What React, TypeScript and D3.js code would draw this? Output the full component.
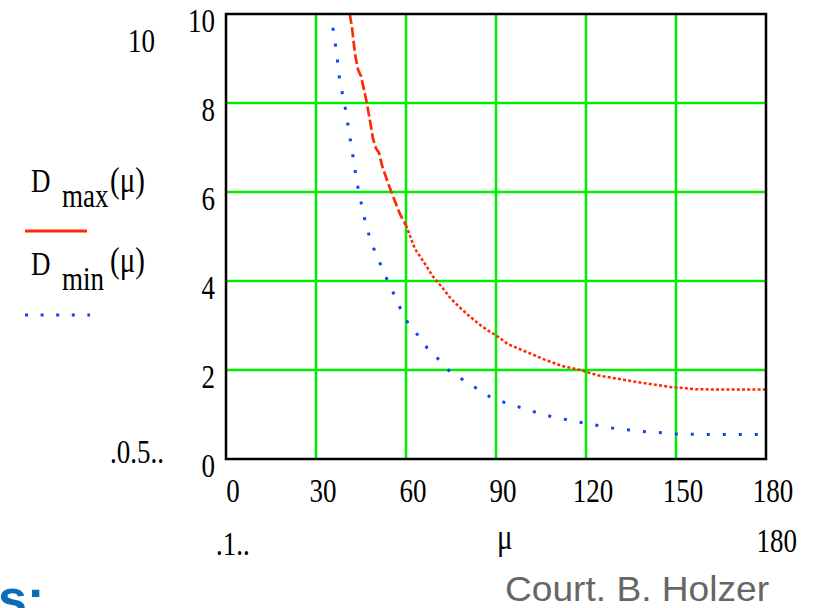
import React from "react";
import * as d3 from "d3";

// Dispersion maximum / minimum in a FODO cell versus phase advance per cell (degrees)
const muMax = [40, 41, 42, 43, 44, 45, 46, 47, 48, 49, 50, 51, 52, 54, 56, 58, 60, 63, 66, 69, 72, 75, 78, 81, 84, 87, 90, 94, 100, 106, 112, 118, 124, 130, 136, 142, 148, 156, 164, 172, 180];
const dMax = [10.6, 10.1, 9.7, 9.1, 8.75, 8.6, 8.3, 7.98, 7.6, 7.2, 6.98, 6.88, 6.6, 6.2, 5.85, 5.5, 5.25, 4.72, 4.42, 4.1, 3.86, 3.6, 3.4, 3.22, 3.05, 2.9, 2.78, 2.58, 2.41, 2.24, 2.09, 2.0, 1.88, 1.81, 1.74, 1.68, 1.62, 1.57, 1.56, 1.56, 1.56];

const muMin = [34, 35, 36, 37, 38, 39, 40, 41, 42, 43, 44, 46, 48, 50, 52, 54, 56, 58, 61, 64, 67, 71, 75, 79, 83, 87, 92, 97, 101, 106, 111, 115, 120, 125, 130, 135, 140, 145, 150, 160, 170, 178];
const dMin = [10.4, 9.9, 9.55, 9.05, 8.45, 8.15, 7.8, 7.35, 6.95, 6.5, 6.1, 5.45, 4.95, 4.6, 4.3, 3.98, 3.7, 3.4, 3.01, 2.78, 2.5, 2.23, 1.94, 1.78, 1.61, 1.43, 1.29, 1.18, 1.1, 0.99, 0.92, 0.86, 0.8, 0.74, 0.68, 0.65, 0.61, 0.59, 0.56, 0.55, 0.55, 0.55];

const xTicks = [0, 30, 60, 90, 120, 150, 180];
const yTicks = [0, 2, 4, 6, 8, 10];

const W = 814;
const H = 608;
const left = 226;
const right = 766;
const top = 14;
const bottom = 459;

const SERIF = "'Liberation Serif', 'Times New Roman', serif";
const STRETCH = 1.25;

const x = d3.scaleLinear().domain([0, 180]).range([left, right]);
const y = d3.scaleLinear().domain([0, 10]).range([bottom, top]);

type Pt = [number, number];
const zip = (a: number[], b: number[]): Pt[] => a.map((v, i) => [v, b[i]]);

const line = d3
  .line<Pt>()
  .x((d) => x(d[0]))
  .y((d) => y(d[1]));

const maxPts = zip(muMax, dMax);
const minPts = zip(muMin, dMin);
const maxSteep = maxPts.filter((d) => d[0] <= 60);
const maxFlat = maxPts.filter((d) => d[0] >= 60);

function T({
  x: tx,
  y: ty,
  size = 27,
  anchor = "start",
  children,
}: {
  x: number;
  y: number;
  size?: number;
  anchor?: "start" | "middle" | "end";
  children: React.ReactNode;
}) {
  return (
    <text
      transform={`translate(${tx},${ty}) scale(1,${STRETCH})`}
      fontFamily={SERIF}
      fontSize={size}
      textAnchor={anchor}
      fill="#000"
    >
      {children}
    </text>
  );
}

export default function App() {
  const green = "#00ee00";
  const red = "#ff2a00";
  const blue = "#1240ff";
  return (
    <svg
      width={W}
      height={H}
      style={{ position: "absolute", left: 0, top: 0, background: "#fff" }}
    >
      <defs>
        <clipPath id="plot">
          <rect x={left} y={top} width={right - left} height={bottom - top} />
        </clipPath>
      </defs>

      {/* grid */}
      {xTicks
        .filter((t) => t > 0 && t < 180)
        .map((t) => (
          <line key={"gx" + t} x1={x(t)} x2={x(t)} y1={top} y2={bottom} stroke={green} strokeWidth={2.5} />
        ))}
      {yTicks
        .filter((t) => t > 0 && t < 10)
        .map((t) => (
          <line key={"gy" + t} x1={left} x2={right} y1={y(t)} y2={y(t)} stroke={green} strokeWidth={2.5} />
        ))}

      {/* curves */}
      <g clipPath="url(#plot)" fill="none">
        <path d={line(maxSteep) || ""} stroke={red} strokeWidth={2.7} strokeDasharray="10,3.5" />
        <path d={line(maxFlat) || ""} stroke={red} strokeWidth={2.5} strokeDasharray="3,2.2" />
        <path d={line(minPts) || ""} stroke={blue} strokeWidth={3} strokeDasharray="3,13" />
      </g>

      {/* frame */}
      <rect
        x={left}
        y={top}
        width={right - left}
        height={bottom - top}
        fill="none"
        stroke="#000"
        strokeWidth={2.5}
      />

      {/* tick labels */}
      {yTicks.map((t) => (
        <T key={"ty" + t} x={215} y={y(t) + 18} anchor="end">
          {t}
        </T>
      ))}
      {xTicks.map((t) => (
        <T key={"tx" + t} x={x(t) + 7} y={502} anchor="middle">
          {t}
        </T>
      ))}

      {/* axis limit placeholders and axis name */}
      <T x={128} y={52}>10</T>
      <T x={110} y={463}>.0.5..</T>
      <T x={216} y={555}>.1..</T>
      <T x={497} y={549} size={29}>μ</T>
      <T x={797} y={552} anchor="end">180</T>

      {/* legend */}
      <T x={31} y={192}>D</T>
      <T x={62} y={207}>max</T>
      <T x={110} y={192} size={29}>(μ)</T>
      <line x1={25} x2={87} y1={231} y2={231} stroke={red} strokeWidth={3} />

      <T x={31} y={275}>D</T>
      <T x={62} y={290}>min</T>
      <T x={110} y={272} size={29}>(μ)</T>
      <line
        x1={25}
        x2={90}
        y1={315}
        y2={315}
        stroke={blue}
        strokeWidth={3}
        strokeDasharray="3,12.6"
      />

      {/* credit */}
      <text
        x={505}
        y={601}
        fontFamily="'Liberation Sans', Arial, sans-serif"
        fontSize={35}
        fill="#666"
        textLength={264}
        lengthAdjust="spacingAndGlyphs"
      >
        Court. B. Holzer
      </text>
      <text
        x={-2}
        y={616}
        fontFamily="'Liberation Sans', Arial, sans-serif"
        fontWeight="bold"
        fontSize={52}
        fill="#0b6db7"
      >
        s:
      </text>
    </svg>
  );
}
